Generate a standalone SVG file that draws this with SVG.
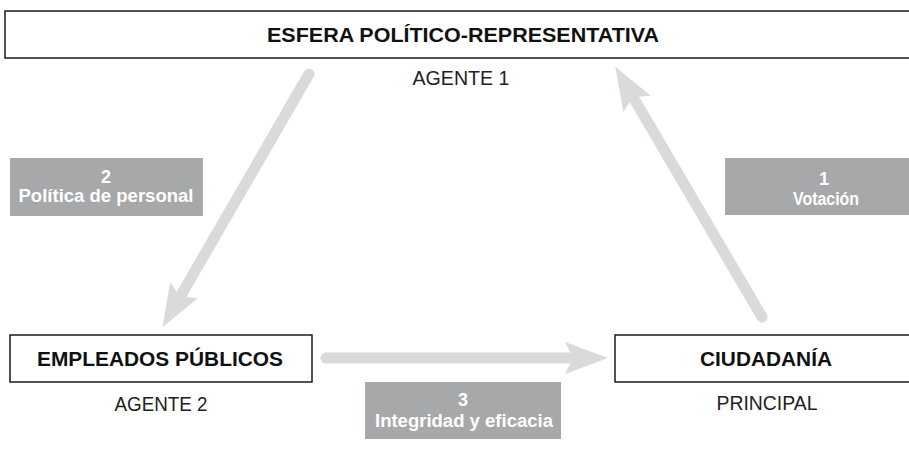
<svg xmlns="http://www.w3.org/2000/svg" width="909" height="454" viewBox="0 0 909 454">
<style>
.box{fill:#fff;stroke:#1a1a1a;stroke-width:1.5}
.title{font-family:"Liberation Sans",Arial,sans-serif;font-weight:bold;font-size:21px;fill:#111;text-anchor:middle}
.sub{font-family:"Liberation Sans",Arial,sans-serif;font-size:21px;fill:#222;text-anchor:middle}
.tag{fill:#a7a8aa}
.tagt{font-family:"Liberation Sans",Arial,sans-serif;font-weight:bold;font-size:18px;fill:#fff;text-anchor:middle}
.arr{stroke:#d9dadb;stroke-width:11;stroke-linecap:round;fill:none}
</style>
<defs>
<marker id="head" markerUnits="userSpaceOnUse" orient="auto" refX="8" refY="0" markerWidth="50" markerHeight="40" viewBox="0 -20 50 40" overflow="visible">
<path d="M43,0 L0,-16 L8,0 L0,16 Z" fill="#d9dadb"/>
</marker>
</defs>
<g id="connectors">
<line class="arr" x1="309" y1="74" x2="180" y2="297" marker-end="url(#head)"/>
<line class="arr" x1="762" y1="317" x2="633" y2="97" marker-end="url(#head)"/>
<line class="arr" x1="326" y1="358" x2="573" y2="358" marker-end="url(#head)"/>
</g>
<g id="esfera">
<rect class="box" x="5" y="11" width="912" height="47"/>
<text class="title" x="463" y="42" textLength="392" lengthAdjust="spacingAndGlyphs">ESFERA POLÍTICO-REPRESENTATIVA</text>
<text class="sub" x="461" y="85" textLength="97" lengthAdjust="spacingAndGlyphs">AGENTE 1</text>
</g>
<g id="empleados">
<rect class="box" x="10" y="335" width="302" height="47"/>
<text class="title" x="160" y="366" textLength="246" lengthAdjust="spacingAndGlyphs">EMPLEADOS PÚBLICOS</text>
<text class="sub" x="161" y="411" textLength="93" lengthAdjust="spacingAndGlyphs">AGENTE 2</text>
</g>
<g id="ciudadania">
<rect class="box" x="615" y="335" width="302" height="47"/>
<text class="title" x="766" y="366" textLength="132" lengthAdjust="spacingAndGlyphs">CIUDADANÍA</text>
<text class="sub" x="767" y="410" textLength="101" lengthAdjust="spacingAndGlyphs">PRINCIPAL</text>
</g>
<g id="label2">
<rect class="tag" x="10" y="158" width="193" height="58"/>
<text class="tagt" x="106" y="183">2</text>
<text class="tagt" x="106" y="202" textLength="175" lengthAdjust="spacingAndGlyphs">Política de personal</text>
</g>
<g id="label1">
<rect class="tag" x="725" y="158" width="200" height="57"/>
<text class="tagt" x="824" y="185">1</text>
<text class="tagt" x="826" y="205" textLength="66" lengthAdjust="spacingAndGlyphs">Votación</text>
</g>
<g id="label3">
<rect class="tag" x="365" y="382" width="196" height="57"/>
<text class="tagt" x="463" y="406">3</text>
<text class="tagt" x="464" y="427" textLength="178" lengthAdjust="spacingAndGlyphs">Integridad y eficacia</text>
</g>
</svg>
